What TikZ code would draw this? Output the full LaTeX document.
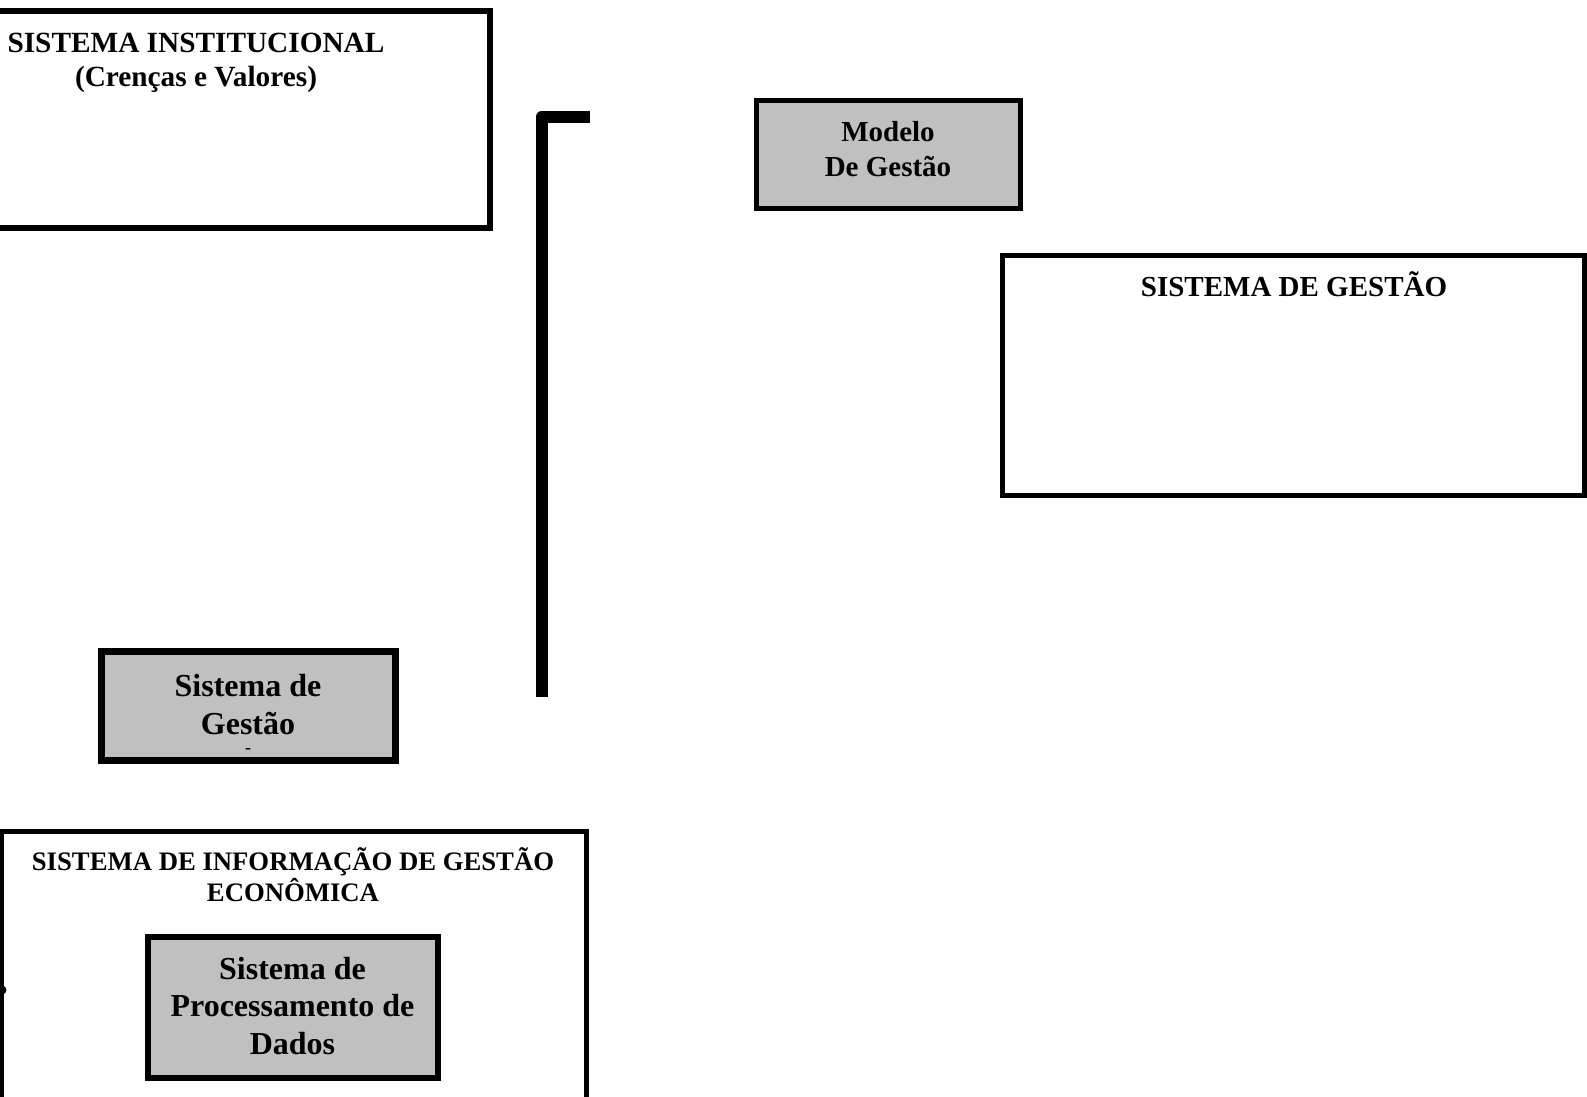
\documentclass[tikz,border=0pt]{standalone}
\usepackage{fontspec}
\setmainfont{Liberation Serif}
\begin{document}
\begin{tikzpicture}[x=1pt,y=-1pt,
  framebox/.style={draw=black,line width=#1,rectangle,inner sep=0pt},
  framebox/.default=5pt,
  greybox/.style={framebox=#1,fill=boxgrey},
  greybox/.default=5pt,
  caption/.style={inner sep=0pt,align=center},
  fmid/.style={font=\bfseries\fontsize{29}{34.5}\selectfont},
  fbig/.style={font=\bfseries\fontsize{32}{37.5}\selectfont},
  fsmall/.style={font=\bfseries\fontsize{26.7}{30.5}\selectfont}]
\definecolor{boxgrey}{HTML}{C0C0C0}
\useasboundingbox (0,0) rectangle (1587,1097);

% institutional system (left edge runs off the page)
\node[framebox=6pt,minimum width=510pt,minimum height=217pt] (inst) at (235,119.5) {};
\node[caption,font=\bfseries\fontsize{29.3}{34.5}\selectfont] (inst-text) at (196,63) {SISTEMA INSTITUCIONAL\\(Crenças e Valores)};

% heavy bracket
\coordinate (brA) at (590,117);
\coordinate (brB) at (541.5,117);
\coordinate (brC) at (541.5,697);
\draw[line width=12pt,line join=round] (brA) -- (brB) -- (brC);

% management model
\node[greybox,minimum width=264pt,minimum height=107pt] (model) at (888,154.5) {};
\node[caption,fmid] (model-text) at (888,149) {Modelo\\De Gestão};

% management system
\node[framebox,minimum width=582pt,minimum height=240pt] (gest) at (1293,375.5) {};
\node[caption,fmid] (gest-text) at (1294,284) {SISTEMA DE GESTÃO};

% small management system box
\node[greybox=7pt,minimum width=294pt,minimum height=109.5pt] (sg) at (248,706) {};
\node[caption,fbig] (sg-text) at (248,704.5) {Sistema de\\Gestão};
\node[inner sep=0pt,font=\bfseries\fontsize{18}{20}\selectfont] (sg-dash) at (248,751) {-};

% economic management information system
\node[framebox,minimum width=585pt,minimum height=299pt] (sig) at (293.5,980.5) {};
\node[caption,fsmall] (sig-text) at (293,874.5) {SISTEMA DE INFORMAÇÃO DE GESTÃO\\ECONÔMICA};
\fill (2,990) circle (4.5pt) coordinate (sig-dot);

% data processing system
\node[greybox=6pt,minimum width=290pt,minimum height=141pt] (spd) at (293,1007.5) {};
\node[caption,fbig] (spd-text) at (292.5,1006) {Sistema de\\Processamento de\\Dados};
\end{tikzpicture}
\end{document}
